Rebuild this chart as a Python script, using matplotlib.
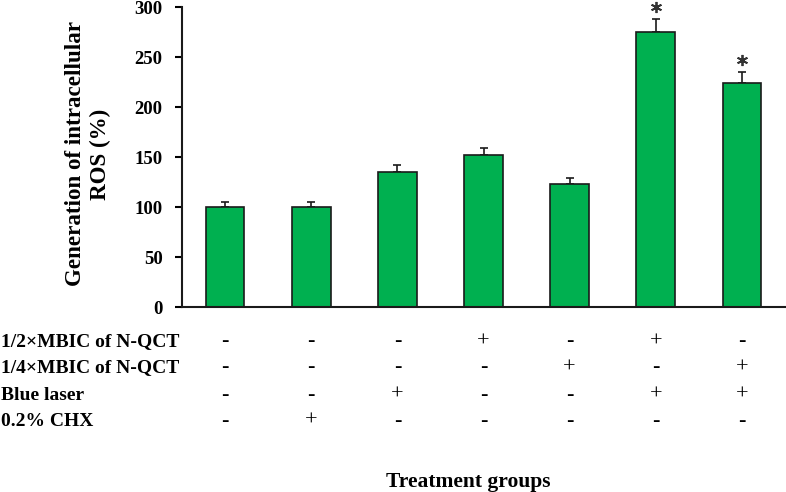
import matplotlib
matplotlib.use("Agg")
import matplotlib.pyplot as plt
import numpy as np

groups = ["G1", "G2", "G3", "G4", "G5", "G6", "G7"]
ros_values = [100, 100, 135, 152, 123, 275, 224]
ros_errors = [5, 5, 7, 7, 6, 13, 11]
significant = [False, False, False, False, False, True, True]

row_labels = ["1/2×MBIC of N-QCT", "1/4×MBIC of N-QCT", "Blue laser", "0.2% CHX"]
row_signs = [
    ["-", "-", "-", "+", "-", "+", "-"],
    ["-", "-", "-", "-", "+", "-", "+"],
    ["-", "-", "+", "-", "-", "+", "+"],
    ["-", "+", "-", "-", "-", "-", "-"],
]
yticks = [0, 50, 100, 150, 200, 250, 300]

plt.rcParams['font.family'] = ['Liberation Serif', 'DejaVu Serif']

W, H = 786, 492
fig = plt.figure(figsize=(W / 100, H / 100), dpi=100)
ax = fig.add_axes([182 / W, 1 - 307 / H, (785 - 182) / W, 300 / H])

x = np.arange(len(groups))
ax.bar(x, ros_values, width=0.45, color="#00B050", edgecolor="#1a1a1a", linewidth=1.2, zorder=2)
ax.errorbar(x, ros_values, yerr=[np.zeros(len(x)), ros_errors], fmt="none",
            ecolor="#1a1a1a", elinewidth=1.2, capsize=3, capthick=1.2, zorder=1)
for xi, v, e, s in zip(x, ros_values, ros_errors, significant):
    if s:
        ax.plot([xi], [v + e + 12], marker=(6, 2, 0), markersize=8, color="#333333",
                markeredgewidth=1.3, clip_on=False)

ax.set_xlim(-0.5, 6.5)
ax.set_ylim(0, 300)
ax.set_yticks(yticks)
ax.set_yticklabels([str(t) for t in yticks], fontsize=13.5, fontweight="bold")
ax.set_xticks([])
for s in ["top", "right"]:
    ax.spines[s].set_visible(False)
for s in ["left", "bottom"]:
    ax.spines[s].set_linewidth(1.5)
    ax.spines[s].set_color("#1a1a1a")
ax.tick_params(axis="y", direction="out", length=5, width=1.5, pad=9)

fig.text(88 / W, 1 - 154 / H, "Generation of intracellular\nROS (%)", rotation=90,
         ha="center", va="center", multialignment="center",
         fontsize=16.6, fontweight="bold", linespacing=1.26)

row_y = [342, 368, 395, 421]
for lbl, signs, py in zip(row_labels, row_signs, row_y):
    fy = 1 - py / H
    fig.text(1 / W, fy, lbl, ha="left", va="center", fontsize=14, fontweight="bold")
    for xi, sg in zip(x, signs):
        fx = ax.transData.transform((xi, 0))[0] / W
        fig.text(fx, fy, sg, ha="center", va="center", fontsize=16)

fig.text(468 / W, 1 - 482 / H, "Treatment groups", ha="center", va="center", fontsize=15.5, fontweight="bold")

fig.savefig("out.png", dpi=100)
